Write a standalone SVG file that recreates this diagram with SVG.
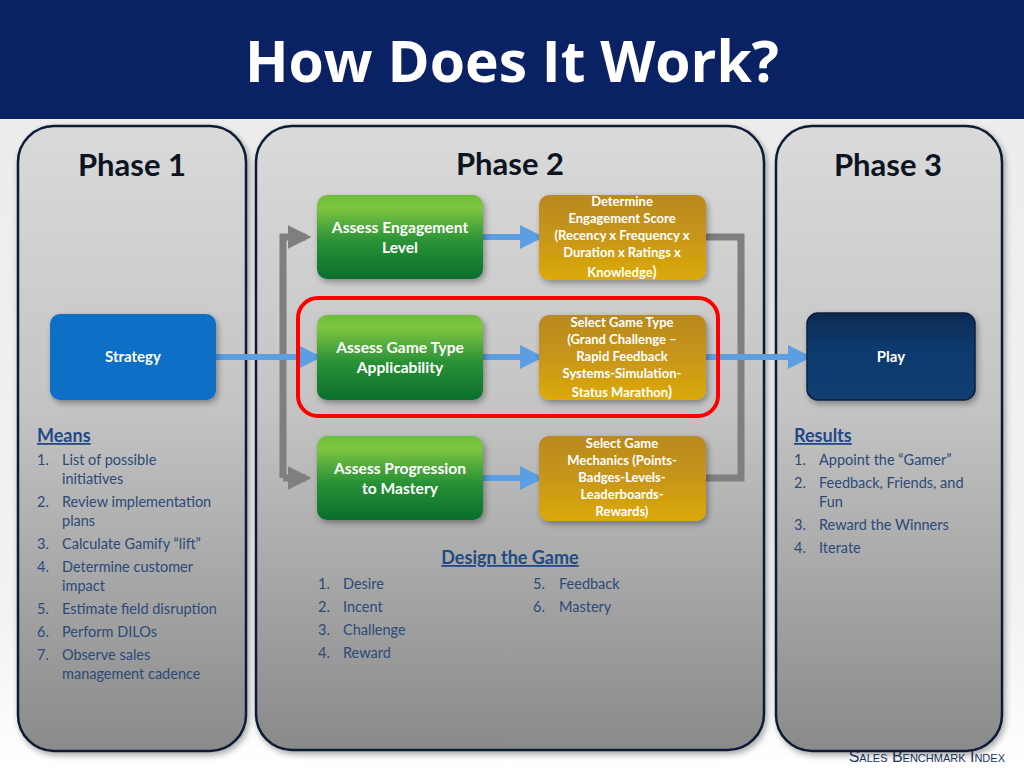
<svg xmlns="http://www.w3.org/2000/svg" width="1024" height="768" viewBox="0 0 1024 768">
<defs>
<linearGradient id="bg" x1="0" y1="0" x2="0" y2="1"><stop offset="0" stop-color="#ebebeb"/><stop offset="0.8" stop-color="#f2f2f2"/><stop offset="1" stop-color="#ffffff"/></linearGradient>
<linearGradient id="panel" x1="0" y1="0" x2="0" y2="1"><stop offset="0" stop-color="#dadada"/><stop offset="0.45" stop-color="#c4c4c4"/><stop offset="1" stop-color="#8a8a8a"/></linearGradient>
<linearGradient id="green" x1="0" y1="0" x2="0" y2="1"><stop offset="0" stop-color="#6cbd3c"/><stop offset="0.15" stop-color="#7ec540"/><stop offset="0.55" stop-color="#2a9236"/><stop offset="1" stop-color="#0b6e2c"/></linearGradient>
<linearGradient id="gold" x1="0" y1="0" x2="0" y2="1"><stop offset="0" stop-color="#b88a20"/><stop offset="0.5" stop-color="#c8961a"/><stop offset="1" stop-color="#dcaa06"/></linearGradient>
<linearGradient id="navy" x1="0" y1="0" x2="0" y2="1"><stop offset="0" stop-color="#0c2a52"/><stop offset="0.4" stop-color="#0f3a6e"/><stop offset="1" stop-color="#123e72"/></linearGradient>
<filter id="sh" x="-10%" y="-10%" width="130%" height="130%"><feGaussianBlur in="SourceAlpha" stdDeviation="3"/><feOffset dx="2" dy="3"/><feComponentTransfer><feFuncA type="linear" slope="0.35"/></feComponentTransfer><feMerge><feMergeNode/><feMergeNode in="SourceGraphic"/></feMerge></filter>
<marker id="ab" markerWidth="4" markerHeight="4" refX="3.2" refY="2" orient="auto" markerUnits="strokeWidth"><path d="M0,0 L4,2 L0,4 z" fill="#5b9ee2"/></marker>
<marker id="ag" markerWidth="3.4" markerHeight="3.4" refX="2.6" refY="1.7" orient="auto" markerUnits="strokeWidth"><path d="M0,0 L3.4,1.7 L0,3.4 z" fill="#7f7f7f"/></marker>
<style>
.ph{font-family:"Lato","Liberation Sans",sans-serif;font-weight:700;font-size:31px;fill:#0d1421;text-anchor:middle}
.pn{fill:url(#panel);stroke:#0e1d36;stroke-width:2.5}
.gb{fill:url(#green)}
.yb{fill:url(#gold)}
.wt{font-family:"Lato","Liberation Sans",sans-serif;font-weight:700;fill:#ffffff;text-anchor:middle}
.gt{font-size:15.6px}
.yt{font-size:13px}
.hd{font-family:"Lato","Liberation Sans",sans-serif;font-weight:700;font-size:18px;fill:#1f4a87;text-decoration:underline}
.li{font-family:"Lato","Liberation Sans",sans-serif;font-size:14.5px;fill:#2b4a78}
.bl{stroke:#5b9ee2;stroke-width:6;fill:none;marker-end:url(#ab)}
.gl{stroke:#7f7f7f;stroke-width:7;fill:none}
</style>
</defs>
<rect x="0" y="0" width="1024" height="768" fill="url(#bg)"/>
<rect x="0" y="0" width="1024" height="119" fill="#0a2163"/>
<text x="512" y="82" font-family="Open Sans, DejaVu Sans, sans-serif" font-weight="700" font-size="57" fill="#ffffff" text-anchor="middle">How Does It Work?</text>
<text x="1005" y="762" font-family="Liberation Sans Narrow, Liberation Sans, sans-serif" font-size="16" fill="#1d3566" text-anchor="end" style="font-variant:small-caps">Sales Benchmark Index</text>
<g id="phase1">
<rect class="pn" x="18" y="126" width="228" height="625" rx="36" filter="url(#sh)"/>
<text class="ph" x="132" y="176">Phase 1</text>
</g>
<g id="phase2">
<rect class="pn" x="256" y="126" width="508" height="624" rx="36" filter="url(#sh)"/>
<text class="ph" x="510" y="175">Phase 2</text>
</g>
<g id="phase3">
<rect class="pn" x="776" y="126" width="226" height="625" rx="36" filter="url(#sh)"/>
<text class="ph" x="888" y="176">Phase 3</text>
</g>
<g id="connectors">
<path class="gl" d="M283,478 V237 H306" marker-end="url(#ag)"/>
<path class="gl" d="M283,478 H306" marker-end="url(#ag)"/>
<path class="gl" d="M706,237 H741 V478 H706"/>
<line class="bl" x1="216" y1="357" x2="317" y2="357"/>
<line class="bl" x1="483" y1="237" x2="539" y2="237"/>
<line class="bl" x1="483" y1="357" x2="539" y2="357"/>
<line class="bl" x1="483" y1="478" x2="539" y2="478"/>
<line class="bl" x1="706" y1="357" x2="807" y2="357"/>
</g>
<g id="highlight">
<rect x="298" y="298" width="420" height="118" rx="20" fill="none" stroke="#ff0000" stroke-width="4"/>
</g>
<g id="strategy">
<rect x="50" y="314" width="166" height="86" rx="10" fill="#0a70c6" filter="url(#sh)"/>
<text class="wt" x="133" y="362" font-size="15">Strategy</text>
</g>
<g id="play">
<rect x="807" y="313" width="168" height="87" rx="11" fill="url(#navy)" stroke="#0a1f3d" stroke-width="1.5" filter="url(#sh)"/>
<text class="wt" x="891" y="362" font-size="15">Play</text>
</g>
<g id="assess-engagement">
<rect class="gb" x="317" y="195" width="166" height="84" rx="10" filter="url(#sh)"/>
<text class="wt gt" x="400" y="233">Assess Engagement</text>
<text class="wt gt" x="400" y="253">Level</text>
</g>
<g id="assess-game-type">
<rect class="gb" x="317" y="315" width="166" height="85" rx="10" filter="url(#sh)"/>
<text class="wt gt" x="400" y="353">Assess Game Type</text>
<text class="wt gt" x="400" y="373">Applicability</text>
</g>
<g id="assess-progression">
<rect class="gb" x="317" y="436" width="166" height="84" rx="10" filter="url(#sh)"/>
<text class="wt gt" x="400" y="474">Assess Progression</text>
<text class="wt gt" x="400" y="494">to Mastery</text>
</g>
<g id="engagement-score">
<rect class="yb" x="539" y="195" width="167" height="85" rx="10" filter="url(#sh)"/>
<text class="wt yt" x="622" y="206">Determine</text>
<text class="wt yt" x="622" y="223">Engagement Score</text>
<text class="wt yt" x="622" y="240">(Recency x Frequency x</text>
<text class="wt yt" x="622" y="257">Duration x Ratings x</text>
<text class="wt yt" x="622" y="277">Knowledge<tspan font-size="15">)</tspan></text>
</g>
<g id="game-type">
<rect class="yb" x="539" y="315" width="167" height="85" rx="10" filter="url(#sh)"/>
<text class="wt yt" x="622" y="327">Select Game Type</text>
<text class="wt yt" x="622" y="344">(Grand Challenge –</text>
<text class="wt yt" x="622" y="361">Rapid Feedback</text>
<text class="wt yt" x="622" y="378">Systems-Simulation-</text>
<text class="wt yt" x="622" y="397">Status Marathon<tspan font-size="15">)</tspan></text>
</g>
<g id="game-mechanics">
<rect class="yb" x="539" y="436" width="167" height="85" rx="10" filter="url(#sh)"/>
<text class="wt yt" x="622" y="448">Select Game</text>
<text class="wt yt" x="622" y="465">Mechanics (Points-</text>
<text class="wt yt" x="622" y="482">Badges-Levels-</text>
<text class="wt yt" x="622" y="499">Leaderboards-</text>
<text class="wt yt" x="622" y="516">Rewards)</text>
</g>
<g id="means">
<text class="hd" x="37" y="442">Means</text>
<text class="li" x="37" y="465">1.</text><text class="li" x="62" y="465">List of possible</text>
<text class="li" x="62" y="484">initiatives</text>
<text class="li" x="37" y="507">2.</text><text class="li" x="62" y="507">Review implementation</text>
<text class="li" x="62" y="526">plans</text>
<text class="li" x="37" y="549">3.</text><text class="li" x="62" y="549">Calculate Gamify “lift”</text>
<text class="li" x="37" y="572">4.</text><text class="li" x="62" y="572">Determine customer</text>
<text class="li" x="62" y="591">impact</text>
<text class="li" x="37" y="614">5.</text><text class="li" x="62" y="614">Estimate field disruption</text>
<text class="li" x="37" y="637">6.</text><text class="li" x="62" y="637">Perform DILOs</text>
<text class="li" x="37" y="660">7.</text><text class="li" x="62" y="660">Observe sales</text>
<text class="li" x="62" y="679">management cadence</text>
</g>
<g id="design">
<text class="hd" x="510" y="564" text-anchor="middle">Design the Game</text>
<text class="li" x="318" y="589">1.</text><text class="li" x="343" y="589">Desire</text>
<text class="li" x="318" y="612">2.</text><text class="li" x="343" y="612">Incent</text>
<text class="li" x="318" y="635">3.</text><text class="li" x="343" y="635">Challenge</text>
<text class="li" x="318" y="658">4.</text><text class="li" x="343" y="658">Reward</text>
<text class="li" x="533" y="589">5.</text><text class="li" x="559" y="589">Feedback</text>
<text class="li" x="533" y="612">6.</text><text class="li" x="559" y="612">Mastery</text>
</g>
<g id="results">
<text class="hd" x="794" y="442">Results</text>
<text class="li" x="794" y="465">1.</text><text class="li" x="819" y="465">Appoint the “Gamer”</text>
<text class="li" x="794" y="488">2.</text><text class="li" x="819" y="488">Feedback, Friends, and</text>
<text class="li" x="819" y="507">Fun</text>
<text class="li" x="794" y="530">3.</text><text class="li" x="819" y="530">Reward the Winners</text>
<text class="li" x="794" y="553">4.</text><text class="li" x="819" y="553">Iterate</text>
</g>
</svg>
